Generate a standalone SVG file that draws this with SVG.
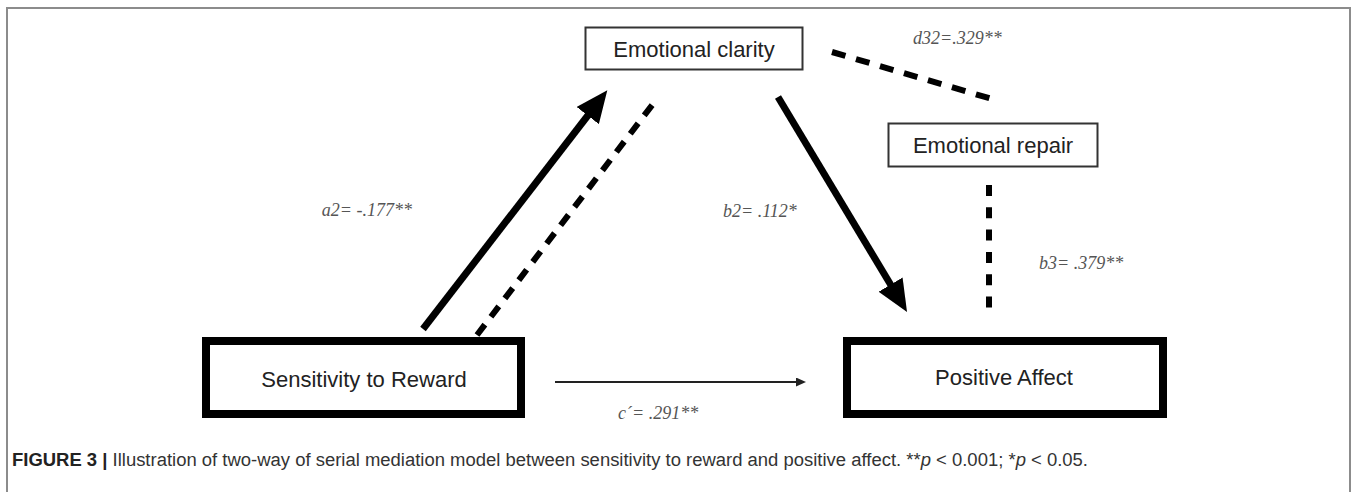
<svg xmlns="http://www.w3.org/2000/svg" width="1357" height="492" viewBox="0 0 1357 492">
  <style>
    .frame { fill: none; stroke: #8c8c8c; stroke-width: 2; }
    .thin { fill: #fff; stroke: #333; stroke-width: 2; }
    .thick { fill: #fff; stroke: #000; stroke-width: 8; }
    .node-text { font-family: "Liberation Sans", Arial, sans-serif; font-size: 22px; fill: #222; text-anchor: middle; }
    .solid { stroke: #000; stroke-width: 7; fill: none; }
    .dashed { stroke: #000; stroke-width: 6; fill: none; stroke-dasharray: 13 10; }
    .vdash { stroke: #000; stroke-width: 6; fill: none; stroke-dasharray: 11 11.3; }
    .direct { stroke: #222; stroke-width: 1.8; fill: none; }
    .label { font-family: "Liberation Serif", "Times New Roman", serif; font-style: italic; font-size: 18px; fill: #555; }
    .caption { font-family: "Liberation Sans", Arial, sans-serif; font-size: 18px; fill: #333; }
  </style>
  <defs>
    <marker id="bigArrow" markerUnits="userSpaceOnUse" markerWidth="34" markerHeight="28" viewBox="0 0 34 28" refX="2" refY="14" orient="auto">
      <path d="M0,0 L32,14 L0,28 z" fill="#000"/>
    </marker>
    <marker id="smallArrow" markerUnits="userSpaceOnUse" markerWidth="10" markerHeight="9" viewBox="0 0 10 9" refX="1" refY="4.5" orient="auto">
      <path d="M0,0 L10,4.5 L0,9 z" fill="#222"/>
    </marker>
  </defs>

  <rect class="frame" x="7" y="8" width="1343" height="510"/>

  <g id="connectors">
    <line class="solid" x1="423" y1="329" x2="589" y2="114" marker-end="url(#bigArrow)"/>
    <line class="dashed" x1="477" y1="335" x2="656" y2="100"/>
    <line class="solid" x1="778" y1="97" x2="891.6" y2="286.3" marker-end="url(#bigArrow)"/>
    <line class="dashed" x1="832" y1="52" x2="992" y2="99" style="stroke-dasharray:14 11"/>
    <line class="vdash" x1="989" y1="185" x2="989" y2="308"/>
    <line class="direct" x1="555" y1="382" x2="797" y2="382" marker-end="url(#smallArrow)"/>
  </g>

  <g id="labels">
    <text class="label" x="412" y="216" text-anchor="end">a2= -.177**</text>
    <text class="label" x="723" y="217">b2= .112*</text>
    <text class="label" x="913" y="44">d32=.329**</text>
    <text class="label" x="1039" y="269">b3= .379**</text>
    <text class="label" x="618" y="419">c´= .291**</text>
  </g>

  <g id="node-emotional-clarity">
    <rect class="thin" x="585.5" y="27.5" width="217" height="42"/>
    <text class="node-text" x="694" y="57">Emotional clarity</text>
  </g>

  <g id="node-emotional-repair">
    <rect class="thin" x="888.5" y="123.5" width="209" height="43"/>
    <text class="node-text" x="993" y="153">Emotional repair</text>
  </g>

  <g id="node-sensitivity">
    <rect class="thick" x="206" y="341" width="315" height="73"/>
    <text class="node-text" x="364" y="387">Sensitivity to Reward</text>
  </g>

  <g id="node-positive-affect">
    <rect class="thick" x="847" y="341" width="316" height="73"/>
    <text class="node-text" x="1004" y="385">Positive Affect</text>
  </g>

  <text class="caption" x="12" y="466" textLength="1076" lengthAdjust="spacingAndGlyphs"><tspan font-weight="bold" fill="#222">FIGURE 3 |</tspan> Illustration of two-way of serial mediation model between sensitivity to reward and positive affect. **<tspan font-style="italic">p</tspan> &lt; 0.001; *<tspan font-style="italic">p</tspan> &lt; 0.05.</text>
</svg>
